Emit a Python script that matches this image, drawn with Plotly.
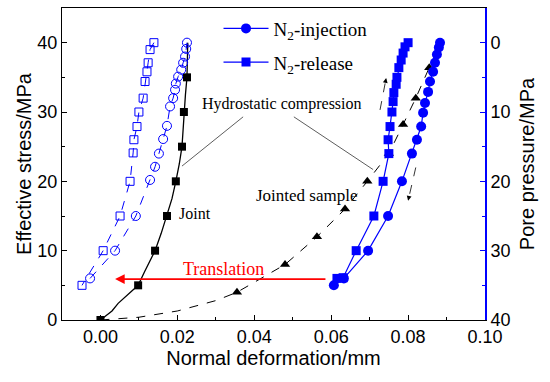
import plotly.graph_objects as go

# ---------------- data ----------------
# Joint (black solid line, filled squares)
joint_line_x = [0.0000, 0.0015, 0.0030, 0.0046, 0.0065, 0.0085, 0.0098, 0.0115, 0.0130, 0.0142,
                0.0158, 0.0173, 0.0186, 0.0196, 0.0205, 0.0212, 0.0215, 0.0217, 0.0221, 0.0225, 0.0227]
joint_line_y = [0, 0.6, 1.3, 2.4, 3.4, 4.4, 5, 7, 8.7, 10, 12.5, 15, 17.5, 20, 22.5, 25, 27.5, 30, 32.5, 35, 40]
joint_mark_x = [0.0000, 0.0098, 0.0142, 0.0173, 0.0196, 0.0212, 0.0217, 0.0225]
joint_mark_y = [0, 5, 10, 15, 20, 25, 30, 35]

# Jointed sample (black dashed line, triangles)
js_line_x = [0.000, 0.005, 0.010, 0.020, 0.030, 0.0355, 0.048, 0.0563, 0.0636, 0.0694,
             0.0750, 0.0787, 0.0820, 0.0855, 0.0885]
js_line_y = [0, 0.15, 0.4, 1.3, 2.8, 4, 8, 12, 16, 20, 24, 28.2, 32, 36.4, 40]
js_mark_x = [0.0355, 0.048, 0.0563, 0.0636, 0.0694, 0.0750, 0.0787, 0.0820, 0.0855]
js_mark_y = [4, 8, 12, 16, 20, 24, 28.2, 32, 36.4]

# N2-injection (blue, filled circles)
inj_x = [0.0607, 0.0633, 0.0696, 0.0748, 0.0784, 0.0810, 0.0823, 0.0834, 0.0839, 0.0844,
         0.0852, 0.0857, 0.0865, 0.0870, 0.0875, 0.0880, 0.0883]
inj_y = [5, 6, 10, 15, 20, 24, 26, 27.9, 29.9, 31.3, 32.9, 34.4, 35.8, 37.1, 38.3, 39.3, 40]

# N2-release (blue, filled squares)
rel_x = [0.0800, 0.0792, 0.0787, 0.0782, 0.0776, 0.0771, 0.0769, 0.0763, 0.0761, 0.0758,
         0.0753, 0.0748, 0.0750, 0.0735, 0.0711, 0.0665, 0.0631, 0.0615]
rel_y = [40, 39.4, 38.5, 37.5, 36.4, 35, 34, 32.8, 31.5, 30, 27.9, 26, 24, 20, 15, 10, 6.1, 6]

# Translated injection (blue dashed, open circles)
tinj_x = [-0.0027, 0.0038, 0.0092, 0.0129, 0.0142, 0.0152, 0.0163, 0.0173, 0.0181,
          0.0189, 0.0194, 0.0196, 0.0202, 0.0210, 0.0215, 0.0220, 0.0223, 0.0225]
tinj_y = [6, 10, 15, 20.2, 22.1, 24, 26.1, 28, 30.8, 32, 33.2, 34.1, 35.1, 36.1, 37.1, 38, 39.1, 40]

# Translated release (blue dashed, open squares)
trel_x = [0.0139, 0.0129, 0.0124, 0.0121, 0.0116, 0.0111, 0.0100, 0.0095, 0.0087, 0.0085,
          0.0077, 0.0051, 0.0007, -0.0048]
trel_y = [40, 39, 37.1, 35.8, 34.4, 32, 30, 27.9, 26, 24.1, 20, 15, 10, 5]

x_ticks = [0.00, 0.02, 0.04, 0.06, 0.08, 0.10]
x_tick_labels = ["0.00", "0.02", "0.04", "0.06", "0.08", "0.10"]
y_ticks = [0, 10, 20, 30, 40]

# annotation anchors (data coordinates)
hc_label = (0.0472, 31.2)
hc_lines = [((0.0371, 29.3), (0.0212, 22.2)), ((0.0503, 29.3), (0.0709, 21.7))]
joint_label = (0.0199, 15.4)
js_label = (0.0538, 18.0)
trans_label = (0.0319, 7.3)
trans_arrow = ((0.0589, 5.9), (0.0038, 5.9))
dashed_arrows = [((0.0727, 30.3), (0.0743, 34.9)), ((0.0820, 22.0), (0.0800, 17.2))]

BLUE = "#0000ff"
SERIF = "Liberation Serif"
SANS = "Liberation Sans"

fig = go.Figure()

# Jointed sample
fig.add_trace(go.Scatter(x=js_line_x, y=js_line_y, mode="lines",
                         line=dict(color="black", width=1, dash="dash"), showlegend=False))
fig.add_trace(go.Scatter(x=js_mark_x, y=js_mark_y, mode="markers",
                         marker=dict(symbol="triangle-up", size=9, color="black"), showlegend=False))
# Joint
fig.add_trace(go.Scatter(x=joint_line_x, y=joint_line_y, mode="lines",
                         line=dict(color="black", width=1.3), showlegend=False))
fig.add_trace(go.Scatter(x=joint_mark_x, y=joint_mark_y, mode="markers",
                         marker=dict(symbol="square", size=8, color="black"), showlegend=False))
# translated
fig.add_trace(go.Scatter(x=trel_x, y=trel_y, mode="lines+markers",
                         line=dict(color=BLUE, width=1, dash="dash"),
                         marker=dict(symbol="square-open", size=8, color=BLUE, line=dict(width=1)),
                         showlegend=False))
fig.add_trace(go.Scatter(x=tinj_x, y=tinj_y, mode="lines+markers",
                         line=dict(color=BLUE, width=1, dash="dash"),
                         marker=dict(symbol="circle-open", size=9, color=BLUE, line=dict(width=1)),
                         showlegend=False))
# N2 injection / release
fig.add_trace(go.Scatter(x=inj_x, y=inj_y, mode="lines+markers", name="N<sub>2</sub>-injection",
                         legendgroup="a",
                         line=dict(color=BLUE, width=1.2),
                         marker=dict(symbol="circle", size=10, color=BLUE)))
fig.add_trace(go.Scatter(x=rel_x, y=rel_y, mode="lines+markers", name="N<sub>2</sub>-release",
                         legendgroup="b",
                         line=dict(color=BLUE, width=1.2),
                         marker=dict(symbol="square", size=9, color=BLUE)))

# Secondary axis dummy trace
fig.add_trace(go.Scatter(x=[None], y=[None], yaxis="y2", showlegend=False))

shapes = []
for (p0, p1) in hc_lines:
    shapes.append(dict(type="line", xref="x", yref="y", x0=p0[0], y0=p0[1], x1=p1[0], y1=p1[1],
                       line=dict(color="#333333", width=0.8)))
for (t, h) in dashed_arrows:
    shapes.append(dict(type="line", xref="x", yref="y", x0=t[0], y0=t[1], x1=h[0], y1=h[1],
                       line=dict(color="black", width=0.8, dash="dash")))

annotations = [
    dict(x=hc_label[0], y=hc_label[1], text="Hydrostatic compression", showarrow=False,
         font=dict(family=SERIF, size=16, color="black")),
    dict(x=joint_label[0], y=joint_label[1], text="Joint", showarrow=False, xanchor="left",
         font=dict(family=SERIF, size=16, color="black")),
    dict(x=js_label[0], y=js_label[1], text="Jointed sample", showarrow=False,
         font=dict(family=SERIF, size=17, color="black")),
    dict(x=trans_label[0], y=trans_label[1], text="Translation", showarrow=False,
         font=dict(family=SERIF, size=18, color="#ff0000")),
    dict(x=trans_arrow[1][0], y=trans_arrow[1][1], ax=trans_arrow[0][0], ay=trans_arrow[0][1],
         xref="x", yref="y", axref="x", ayref="y", text="", showarrow=True,
         arrowhead=2, arrowsize=1.2, arrowwidth=1.6, arrowcolor="#ff0000"),
]
for (t, h) in dashed_arrows:
    annotations.append(dict(x=h[0], y=h[1], ax=h[0] - (h[0] - t[0]) * 0.15, ay=h[1] - (h[1] - t[1]) * 0.15,
                            xref="x", yref="y", axref="x", ayref="y", text="", showarrow=True,
                            arrowhead=2, arrowsize=1.2, arrowwidth=0.8, arrowcolor="black"))

fig.update_layout(
    width=550, height=382,
    margin=dict(l=62, r=65, t=8, b=62),
    paper_bgcolor="white", plot_bgcolor="white",
    font=dict(family=SANS, size=18, color="black"),
    shapes=shapes, annotations=annotations,
    legend=dict(x=0.37, y=0.995, xanchor="left", yanchor="top",
                bgcolor="rgba(0,0,0,0)", font=dict(family=SERIF, size=19, color="black"),
                itemwidth=45, tracegroupgap=6),
    xaxis=dict(range=[-0.01, 0.10], tickvals=x_ticks, ticktext=x_tick_labels,
               ticks="inside", ticklen=5, tickcolor="black", automargin=False,
               minor=dict(ticks="inside", ticklen=3, dtick=0.01, tick0=0, tickcolor="black"),
               showline=True, linecolor="black", linewidth=1.2, mirror=True,
               showgrid=False, zeroline=False,
               title=dict(text="Normal deformation/mm", font=dict(family=SANS, size=20), standoff=1),
               tickfont=dict(family=SANS, size=18)),
    yaxis=dict(range=[0, 45], tickvals=y_ticks, ticks="inside", ticklen=5, tickcolor="black",
               automargin=False,
               minor=dict(ticks="inside", ticklen=3, dtick=5, tick0=0, tickcolor="black"),
               showline=True, linecolor="black", linewidth=1.2,
               showgrid=False, zeroline=False,
               title=dict(text="Effective stress/MPa", font=dict(family=SANS, size=20), standoff=0),
               tickfont=dict(family=SANS, size=18)),
    yaxis2=dict(overlaying="y", side="right", range=[40, -5], tickvals=y_ticks,
                ticks="inside", ticklen=5, tickcolor=BLUE, automargin=False,
                minor=dict(ticks="inside", ticklen=3, dtick=5, tick0=0, tickcolor=BLUE),
                showline=True, linecolor=BLUE, linewidth=1.6,
                showgrid=False, zeroline=False,
                title=dict(text="Pore pressure/MPa", font=dict(family=SANS, size=20), standoff=11),
                tickfont=dict(family=SANS, size=18, color="black")),
)

fig.write_html("out.html", config={"displayModeBar": False},
               post_script="document.body.style.margin='0';")
